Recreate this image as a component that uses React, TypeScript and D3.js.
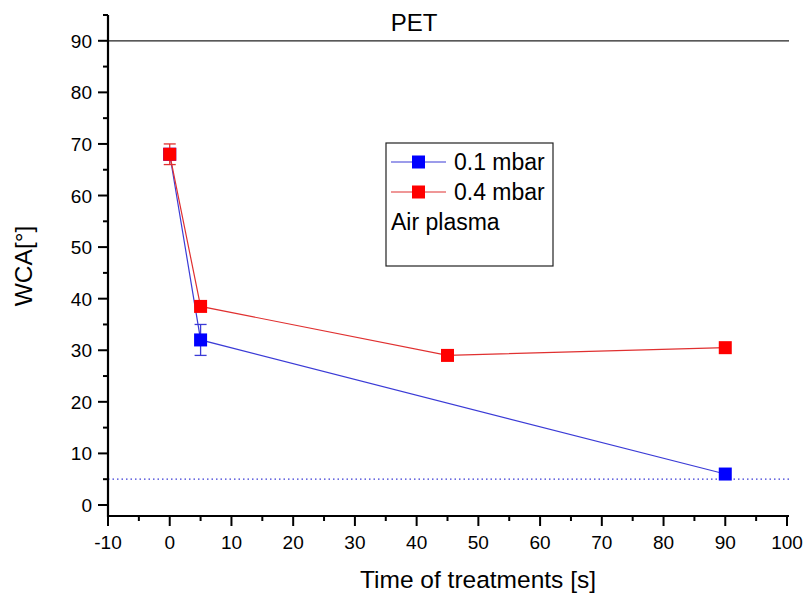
import React from 'react';
import * as d3 from 'd3';

const width = 809,
      height = 595;

const margin = { left: 108, right: 20, top: 15, bottom: 79 };

const blueX = [0, 5, 90];
const blueY = [68, 32, 6];
const blueErr = [0, 3, 0];

const redX = [0, 5, 45, 90];
const redY = [68, 38.5, 29, 30.5];
const redErr = [2, 0, 0, 0];

const xTicks = [-10, 0, 10, 20, 30, 40, 50, 60, 70, 80, 90, 100];
const yTicks = [0, 10, 20, 30, 40, 50, 60, 70, 80, 90];

const refLine = 90;
const dotLine = 5;

const series = [
  { name: '0.1 mbar', xs: blueX, ys: blueY, err: blueErr, color: '#0000ff', line: '#3b3bd6' },
  { name: '0.4 mbar', xs: redX, ys: redY, err: redErr, color: '#ff0000', line: '#e03030' },
];

const App = () => {
  const x = d3.scaleLinear().domain([-10, 100]).range([margin.left, 787]);
  const y = d3.scaleLinear().domain([-2, 95]).range([515.3, margin.top]);
  const x0 = margin.left, y0 = 516;

  const line = d3.line<[number, number]>().x(d => x(d[0])).y(d => y(d[1]));
  const font = 'Arial, "Liberation Sans", sans-serif';
  const minorX = d3.range(-5, 100, 10);
  const minorY = d3.range(5, 96, 10);

  return (
    <svg width={width} height={height} style={{ position: 'absolute', left: 0, top: 0 }}>
      <rect width={width} height={height} fill="#fff" />
      <text x={414} y={31} fontSize={24} fontFamily={font} textAnchor="middle">PET</text>

      <line x1={x0} x2={789} y1={y(refLine)} y2={y(refLine)} stroke="#222" strokeWidth={1.2} />
      <line x1={x0} x2={789} y1={y(dotLine)} y2={y(dotLine)} stroke="#3b3bd6" strokeWidth={1.2} strokeDasharray="1.5,3" />

      {series.map(s => (
        <g key={s.name}>
          <path d={line(s.xs.map((v, i) => [v, s.ys[i]]) as [number, number][]) || ''} fill="none" stroke={s.line} strokeWidth={1.2} />
          {s.xs.map((v, i) => s.err[i] > 0 ? (
            <g key={'e' + i} stroke={s.line} strokeWidth={1.3}>
              <line x1={x(v)} x2={x(v)} y1={y(s.ys[i] - s.err[i])} y2={y(s.ys[i] + s.err[i])} />
              <line x1={x(v) - 6} x2={x(v) + 6} y1={y(s.ys[i] - s.err[i])} y2={y(s.ys[i] - s.err[i])} />
              <line x1={x(v) - 6} x2={x(v) + 6} y1={y(s.ys[i] + s.err[i])} y2={y(s.ys[i] + s.err[i])} />
            </g>
          ) : null)}
          {s.xs.map((v, i) => (
            <rect key={i} x={x(v) - 6.5} y={y(s.ys[i]) - 6.5} width={13} height={13} fill={s.color} />
          ))}
        </g>
      ))}

      {/* axes */}
      <line x1={x0} x2={x0} y1={y(95)} y2={y0 + 1} stroke="#000" strokeWidth={2.2} />
      <line x1={x0 - 1} x2={789} y1={y0} y2={y0} stroke="#000" strokeWidth={2.2} />
      {yTicks.map(t => (
        <g key={'y' + t}>
          <line x1={x0 - 10} x2={x0} y1={y(t)} y2={y(t)} stroke="#000" strokeWidth={2} />
          <text x={x0 - 16} y={y(t) + 7} fontSize={19} fontFamily={font} textAnchor="end">{t}</text>
        </g>
      ))}
      {minorY.map(t => (
        <line key={'my' + t} x1={x0 - 5} x2={x0} y1={y(t)} y2={y(t)} stroke="#000" strokeWidth={2} />
      ))}
      {xTicks.map(t => (
        <g key={'x' + t}>
          <line x1={x(t)} x2={x(t)} y1={y0} y2={y0 + 10} stroke="#000" strokeWidth={2} />
          <text x={x(t)} y={y0 + 33} fontSize={19} fontFamily={font} textAnchor="middle">{t}</text>
        </g>
      ))}
      {minorX.map(t => (
        <line key={'mx' + t} x1={x(t)} x2={x(t)} y1={y0} y2={y0 + 5} stroke="#000" strokeWidth={2} />
      ))}

      <text x={478} y={588} fontSize={24.5} fontFamily={font} textAnchor="middle">Time of treatments [s]</text>
      <text transform={`translate(32,266) rotate(-90)`} fontSize={24.5} fontFamily={font} textAnchor="middle">WCA[°]</text>

      {/* legend */}
      <rect x={386} y={143} width={167} height={123} fill="#fff" stroke="#222" strokeWidth={1.2} />
      {series.map((s, i) => (
        <g key={'l' + i}>
          <line x1={391} x2={446} y1={162 + i * 30} y2={162 + i * 30} stroke={s.line} strokeWidth={1.2} />
          <rect x={412} y={155.5 + i * 30} width={13} height={13} fill={s.color} />
          <text x={454} y={170 + i * 30} fontSize={23} fontFamily={font}>{s.name}</text>
        </g>
      ))}
      <text x={391} y={230} fontSize={23} fontFamily={font}>Air plasma</text>
    </svg>
  );
};

export default App;
